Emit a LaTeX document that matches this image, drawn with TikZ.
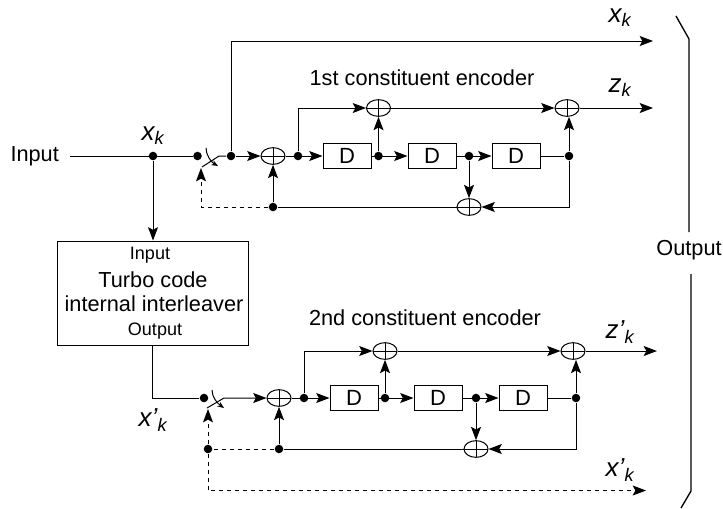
\documentclass[tikz,border=0pt]{standalone}
\usepackage{fontspec}
\setmainfont{Liberation Sans}
\usetikzlibrary{arrows.meta}
\usetikzlibrary{shapes.geometric}
\tikzset{
  tip/.style={-{Stealth[length=10pt,width=7.5pt,inset=2pt]}},
  dot/.style={circle,fill=black,inner sep=0pt,minimum size=6.4pt},
  delay/.style={draw,rectangle,inner sep=0pt,minimum width=36pt,minimum height=19pt,font=\fontsize{16.5}{16.5}\selectfont},
  sum/.style={draw,ellipse,inner sep=0pt,minimum width=18pt,minimum height=12.5pt,
    path picture={\draw (path picture bounding box.north) -- (path picture bounding box.south)
      (path picture bounding box.west) -- (path picture bounding box.east);}},
  big/.style={font=\fontsize{16.3}{16.3}\selectfont},
  small/.style={font=\fontsize{13.5}{13.5}\selectfont},
  sym/.style={font=\fontsize{19.5}{19.5}\selectfont}
}
\newcommand{\symb}[2]{\textit{#1\textsubscript{#2}}}
\begin{document}
\begin{tikzpicture}[x=0.75pt,y=-0.75pt,line width=0.75pt]
\useasboundingbox (0,0) rectangle (723,508);
% labels
\node [big,anchor=west,inner sep=0pt] (input) at (10,156) {Input};
\node [sym] (xtop) at (153,136) {\symb{x}{k}};
\node [sym] (xout) at (620,18) {\symb{x}{k}};
\node [sym] (zout) at (620,88) {\symb{z}{k}};
\node [sym] (xint) at (153,420) {\symb{x’}{k}};
\node [sym] (zint) at (620,332) {\symb{z’}{k}};
\node [sym] (xend) at (620,470) {\symb{x’}{k}};
\node [big] (enca) at (422,78) {1st constituent encoder};
\node [big] (encb) at (425,318) {2nd constituent encoder};
\node [big] (output) at (689,250) {Output};
% interleaver
\node [draw,rectangle,minimum width=143.25pt,minimum height=78pt] (leaver) at (152.5,293) {};
\node [small] (lin) at (150,255) {Input};
\node [big] (lta) at (153,280) {Turbo code};
\node [big] (ltb) at (154,304) {internal interleaver};
\node [small] (lout) at (155,331) {Output};
% 1st encoder
\foreach \name/\px/\py in {ia/153/156,sa/197.5/156,ra/231/156,pa/298/156,qa/378.5/156,ta/469/156,ua/569/156,fa/273/207}
  \node [dot] (\name) at (\px,\py) {};
\foreach \name/\px/\py in {sa0/273/156,sa1/378.5/108,sa2/567/108,sa3/469/207}
  \node [sum] (\name) at (\px,\py) {};
\foreach \name/\px in {da/347,db/432,dc/516}
  \node [delay] (\name) at (\px,156) {D};
% 2nd encoder
\foreach \name/\px/\py in {sb/204/398,pb/304/398,qb/385/398,tb/476/398,ub/576/398,fb/279/449,gb/208/449}
  \node [dot] (\name) at (\px,\py) {};
\foreach \name/\px/\py in {sb0/279/398,sb1/385/351,sb2/573/351,sb3/476/449}
  \node [sum] (\name) at (\px,\py) {};
\foreach \name/\px in {dd/354,de/438,df/523}
  \node [delay] (\name) at (\px,398) {D};
% free ends
\coordinate (inl) at (70,156);
\coordinate (topc) at (231,41);
\coordinate (topr) at (653,41);
\coordinate (zr) at (653,108);
\coordinate (swa) at (219,156);
\coordinate (swb) at (202,167);
\coordinate (swc) at (201,168);
\coordinate (swd) at (201,207);
\coordinate (cb) at (569,207);
\coordinate (lout1) at (152,398);
\coordinate (swe) at (224,398);
\coordinate (swf) at (207,408);
\coordinate (swg) at (208,409);
\coordinate (cc) at (304,351);
\coordinate (zrb) at (657,351);
\coordinate (cd) at (576,449);
\coordinate (ce) at (208,490.5);
\coordinate (endr) at (646,490.5);
% wires of the 1st encoder
\draw (inl) -- (sa);
\draw [tip] (ia) -- (leaver.north -| ia);
\draw [tip] (ra) -- (topc) -- (topr);
\draw (ra) -- (swa) -- (swb);
\draw [-{Stealth[length=5pt,width=4pt]}] (206,148) .. controls (206,155) and (211,162) .. (218,166);
\draw [tip] (ra) -- (sa0);
\draw [tip] (sa0) -- (da);
\draw [tip] (pa) |- (sa1.west);
\draw [tip] (qa) -- (sa1);
\draw [tip] (da) -- (db);
\draw [tip] (db) -- (dc);
\draw (dc) -- (ua);
\draw [tip] (sa1.east) -- (sa2.west);
\draw [tip] (sa2.east) -- (zr);
\draw [tip] (ua) -- (ua |- sa2.south);
\draw [tip] (ua) -- (cb) -- (sa3.east);
\draw [tip] (ta) -- (sa3);
\draw (sa3) -- (fa);
\draw [tip] (fa) -- (sa0);
\draw [tip,dashed] (fa) -- (swd) -- (swc);
% wires of the 2nd encoder
\draw (leaver.south -| lout1) -- (lout1) -- (sb);
\draw [tip] (swf) -- (swe) -- (sb0);
\draw [-{Stealth[length=5pt,width=4pt]}] (212,390) .. controls (212,397) and (217,403) .. (224,408);
\draw [tip] (sb0) -- (dd);
\draw [tip] (pb) -- (cc) -- (sb1.west);
\draw [tip] (qb) -- (sb1);
\draw [tip] (dd) -- (de);
\draw [tip] (de) -- (df);
\draw (df) -- (ub);
\draw [tip] (sb1.east) -- (sb2.west);
\draw [tip] (sb2.east) -- (zrb);
\draw [tip] (ub) -- (ub |- sb2.south);
\draw [tip] (ub) -- (cd) -- (sb3.east);
\draw [tip] (tb) -- (sb3);
\draw (sb3) -- (fb);
\draw [tip] (fb) -- (sb0);
\draw [dashed] (fb) -- (gb);
\draw [tip,dashed] (gb) -- (swg);
\draw [tip,dashed] (gb) -- (ce) -- (endr);
% output bracket
\draw [line width=1pt] (676,16) -- (689,39) -- (689,232);
\draw [line width=1pt] (691,274) -- (691,491) -- (681,508);
\end{tikzpicture}
\end{document}
